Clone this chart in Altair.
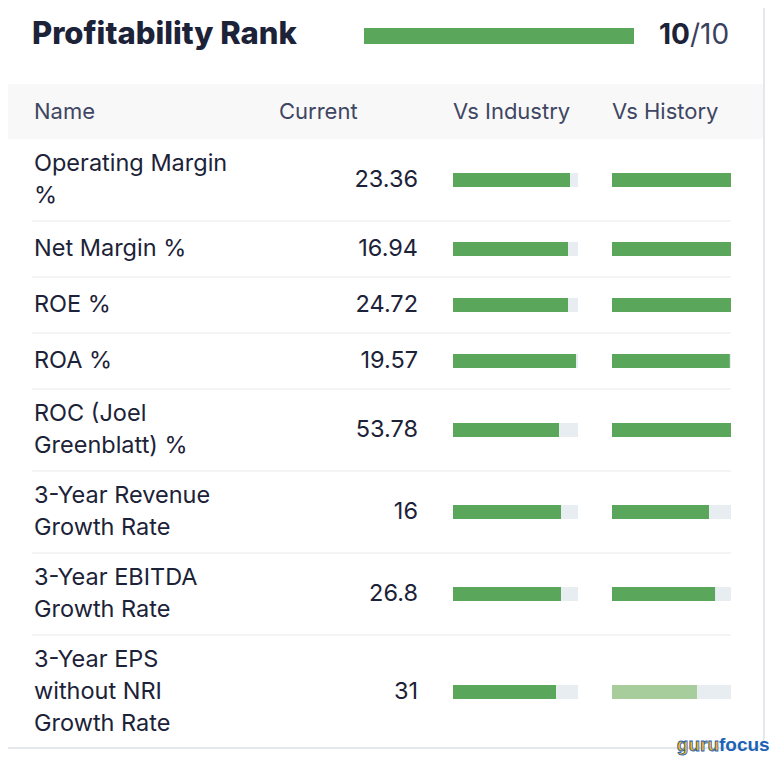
import altair as alt
import pandas as pd

# ---- data ----
title_text = "Profitability Rank"
rank_value = 10
rank_max = 10
headers = ["Name", "Current", "Vs Industry", "Vs History"]
names = [
    "Operating Margin\n%",
    "Net Margin %",
    "ROE %",
    "ROA %",
    "ROC (Joel\nGreenblatt) %",
    "3-Year Revenue\nGrowth Rate",
    "3-Year EBITDA\nGrowth Rate",
    "3-Year EPS\nwithout NRI\nGrowth Rate",
]
current = ["23.36", "16.94", "24.72", "19.57", "53.78", "16", "26.8", "31"]
vs_industry = [0.936, 0.92, 0.92, 0.984, 0.848, 0.864, 0.864, 0.824]
vs_history = [1.0, 1.0, 1.0, 0.99, 1.0, 0.815, 0.866, 0.714]

# ---- layout ----
W, H = 768, 750
FONT = "Inter"
DARK = "#1c2238"
HEAD = "#3f4663"
GREEN = "#5aa65b"
LIGHT = "#a6cd9b"
TRACK = "#e8edf2"
SEP = "#f3f4f6"
ROW_TOP = 131
ROW_H = {1: 56, 2: 82, 3: 114}
LINE_H = 32
BAR_H = 14

centers, bottoms, text_y = [], [], []
y = ROW_TOP
for n in names:
    k = n.count("\n") + 1
    h = ROW_H[k]
    c = y + h / 2
    centers.append(c)
    bottoms.append(y + h)
    text_y.append(c - (k - 1) * LINE_H / 2)
    y += h

rows = pd.DataFrame({
    "name": names,
    "current": current,
    "ind": vs_industry,
    "hist": vs_history,
    "yc": centers,
    "yt": text_y,
    "y0": [c - BAR_H / 2 for c in centers],
    "y1": [c + BAR_H / 2 for c in centers],
    "one": [1.0] * len(names),
    "zero": [0.0] * len(names),
})
seps = pd.DataFrame({"ys": bottoms[:-1]})
one = pd.DataFrame({"k": [0]})

YS = alt.Scale(domain=[0, H], range=[0, H])
base_rows = alt.Chart(rows)

card = alt.Chart(one).mark_rect(
    fill="white", stroke="#e4e7eb", strokeWidth=2, cornerRadius=10
).encode(x=alt.value(-30), x2=alt.value(756), y=alt.value(-30), y2=alt.value(740))

header_band = alt.Chart(one).mark_rect(fill="#f8f8f8").encode(
    x=alt.value(-10), x2=alt.value(755), y=alt.value(76), y2=alt.value(131)
)

title = alt.Chart(pd.DataFrame({"t": [title_text]})).mark_text(
    font=FONT, fontSize=31, fontWeight=800, color=DARK, align="left", baseline="middle"
).encode(x=alt.value(24), y=alt.value(27), text="t:N")

rank_df = pd.DataFrame({"v": [rank_value], "m": [rank_max], "z": [0]})
RS = alt.Scale(domain=[0, rank_max], range=[356, 626])
rank_track = alt.Chart(rank_df).mark_rect(color=TRACK).encode(
    x=alt.X("z:Q", scale=RS, axis=None), x2="m:Q", y=alt.value(20), y2=alt.value(36)
)
rank_bar = alt.Chart(rank_df).mark_rect(color=GREEN).encode(
    x=alt.X("z:Q", scale=RS, axis=None), x2="v:Q", y=alt.value(20), y2=alt.value(36)
)
rank_num = alt.Chart(pd.DataFrame({"t": [str(rank_value)]})).mark_text(
    font=FONT, fontSize=28, fontWeight=700, color=DARK, align="right", baseline="middle"
).encode(x=alt.value(682), y=alt.value(28), text="t:N")
rank_den = alt.Chart(pd.DataFrame({"t": ["/" + str(rank_max)]})).mark_text(
    font=FONT, fontSize=28, fontWeight=400, color="#3a4060", align="left", baseline="middle"
).encode(x=alt.value(682), y=alt.value(28), text="t:N")

hdr_x = [26, 271, 445, 604]
header_layers = [
    alt.Chart(pd.DataFrame({"t": [h]})).mark_text(
        font=FONT, fontSize=22, color=HEAD, align="left", baseline="middle"
    ).encode(x=alt.value(hx), y=alt.value(104), text="t:N")
    for h, hx in zip(headers, hdr_x)
]

sep_rules = alt.Chart(seps).mark_rule(color=SEP, strokeWidth=2).encode(
    x=alt.value(24), x2=alt.value(723), y=alt.Y("ys:Q", scale=YS, axis=None)
)

name_text = base_rows.mark_text(
    font=FONT, fontSize=23.5, color=DARK, align="left", baseline="middle",
    lineBreak="\n", lineHeight=LINE_H
).encode(x=alt.value(26), y=alt.Y("yt:Q", scale=YS, axis=None), text="name:N")

cur_text = base_rows.mark_text(
    font=FONT, fontSize=23.5, color=DARK, align="right", baseline="middle"
).encode(x=alt.value(410), y=alt.Y("yc:Q", scale=YS, axis=None), text="current:N")

IS = alt.Scale(domain=[0, 1], range=[445, 570])
HS = alt.Scale(domain=[0, 1], range=[604, 723])

ind_track = base_rows.mark_rect(color=TRACK).encode(
    x=alt.X("zero:Q", scale=IS, axis=None), x2="one:Q",
    y=alt.Y("y0:Q", scale=YS, axis=None), y2="y1:Q"
)
ind_bar = base_rows.mark_rect(color=GREEN).encode(
    x=alt.X("zero:Q", scale=IS, axis=None), x2="ind:Q",
    y=alt.Y("y0:Q", scale=YS, axis=None), y2="y1:Q"
)
hist_track = base_rows.mark_rect(color=TRACK).encode(
    x=alt.X("zero:Q", scale=HS, axis=None), x2="one:Q",
    y=alt.Y("y0:Q", scale=YS, axis=None), y2="y1:Q"
)
hist_bar = base_rows.mark_rect().encode(
    x=alt.X("zero:Q", scale=HS, axis=None), x2="hist:Q",
    y=alt.Y("y0:Q", scale=YS, axis=None), y2="y1:Q",
    color=alt.condition(alt.datum.hist < 0.75, alt.value(LIGHT), alt.value(GREEN)),
)

LOGO_FONT = "Liberation Sans"
logo_guru = alt.Chart(pd.DataFrame({"t": ["guru"]})).mark_text(
    font=LOGO_FONT, fontSize=19, fontWeight=700, color="#f7b21b",
    stroke="#1b5fae", strokeWidth=0.8, align="right", baseline="middle"
).encode(x=alt.value(711), y=alt.value(737), text="t:N")
logo_focus = alt.Chart(pd.DataFrame({"t": ["focus"]})).mark_text(
    font=LOGO_FONT, fontSize=19, fontWeight=700, color="#1c62b5",
    align="left", baseline="middle"
).encode(x=alt.value(711), y=alt.value(737), text="t:N")

chart = alt.layer(
    card, header_band, title, rank_track, rank_bar, rank_num, rank_den,
    *header_layers, sep_rules, name_text, cur_text,
    ind_track, ind_bar, hist_track, hist_bar, logo_guru, logo_focus
).resolve_scale(x="independent", y="shared").properties(
    width=W, height=H, padding=0, autosize=alt.AutoSizeParams(type="none")
).configure_view(stroke=None)

chart.save("out.html", embed_options={"renderer": "svg", "actions": False})
